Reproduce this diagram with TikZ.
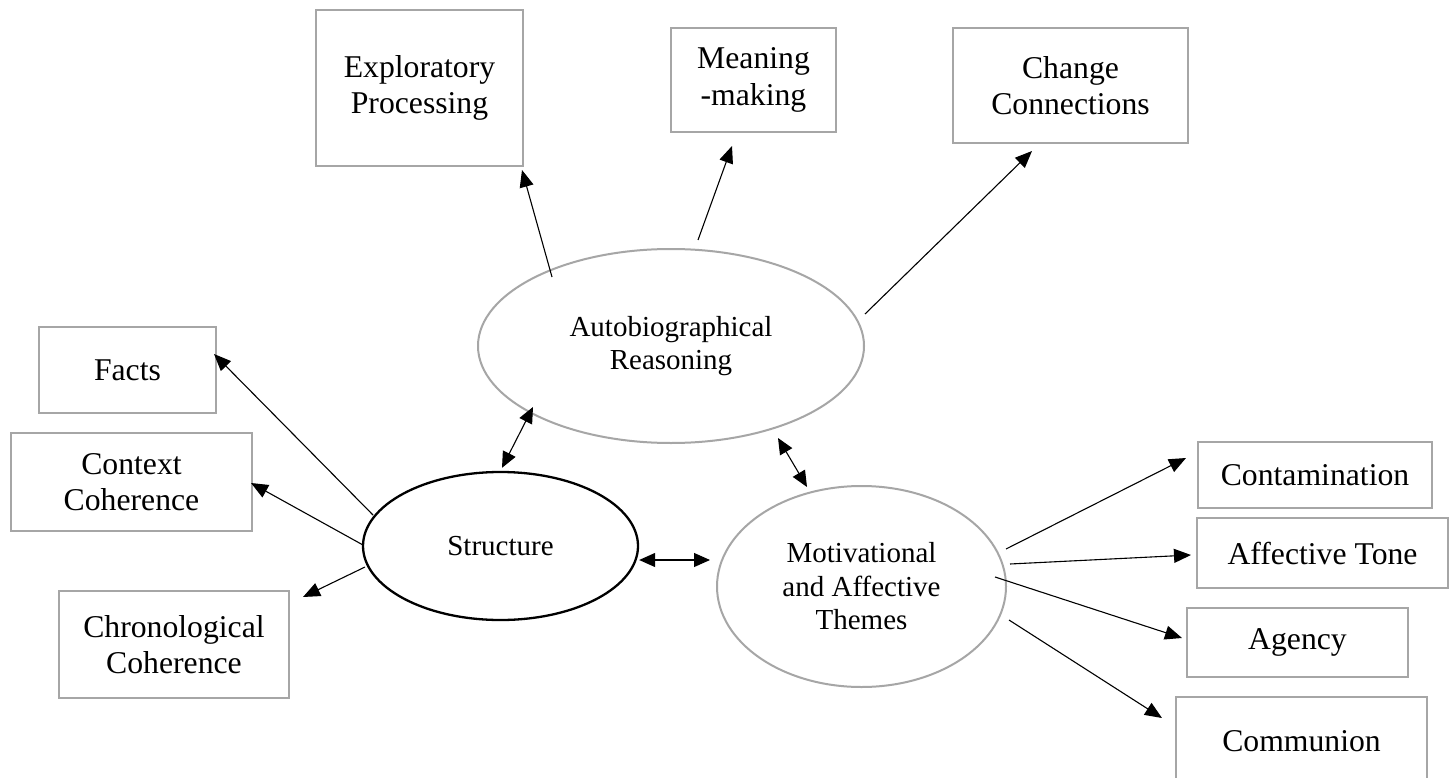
\documentclass[tikz,border=0pt]{standalone}
\usepackage{fontspec}
\setmainfont{Liberation Serif}
\usetikzlibrary{arrows.meta,calc,shapes.geometric}
\definecolor{edgegray}{RGB}{166,166,166}
\begin{document}
\begin{tikzpicture}[x=1pt,y=-1pt,
  box/.style={draw=edgegray,line width=2pt,rectangle,inner sep=0pt,align=center,
    font=\fontsize{31.7}{36.5}\selectfont},
  theme/.style={draw=edgegray,line width=2pt,ellipse,inner sep=0pt,align=center,
    font=\fontsize{29}{33.5}\selectfont},
  dropby/.style={execute at begin node={\rule{0pt}{#1}}},
  link/.style={line width=1.1pt,-{Triangle[length=17pt,width=14pt]}},
  dlink/.style={line width=1.1pt,{Triangle[length=16pt,width=14pt]}-{Triangle[length=16pt,width=14pt]}}]

\fill[white] (0,0) rectangle (1455,778);
\useasboundingbox (0,0) rectangle (1455,778);

% central constructs
\node[theme,dropby=25.5pt,minimum width=386pt,minimum height=194pt] (ar) at (671,346) {Autobiographical\\Reasoning};
\node[theme,draw=black,line width=2.3pt,minimum width=275pt,minimum height=148pt] (st) at (500.5,546) {Structure};
\node[theme,dropby=25pt,minimum width=289pt,minimum height=201pt] (mo) at (861.5,586.5) {Motivational\\and Affective\\Themes};

% autobiographical reasoning indicators
\node[box,dropby=29.5pt,minimum width=207pt,minimum height=156pt] (ep) at (419.5,88) {Exploratory\\Processing};
\node[box,dropby=28.5pt,minimum width=165pt,minimum height=104pt] (mm) at (753.5,80) {Meaning\\-making};
\node[box,dropby=28.5pt,minimum width=235pt,minimum height=115pt] (cc) at (1070.5,85.5) {Change\\Connections};

% structure indicators
\node[box,minimum width=177pt,minimum height=86pt] (fa) at (127.5,370) {Facts};
\node[box,dropby=28.5pt,minimum width=241pt,minimum height=98pt] (co) at (131.5,482) {Context\\Coherence};
\node[box,dropby=29pt,minimum width=230pt,minimum height=107pt] (ch) at (174,644.5) {Chronological\\Coherence};

% motivational and affective indicators
\node[box,minimum width=234pt,minimum height=66pt] (ct) at (1315,475) {Contamination};
\node[box,minimum width=251pt,minimum height=70pt] (at) at (1322.5,553) {Affective Tone};
\node[box,minimum width=221pt,minimum height=69pt] (ag) at (1297.5,642.5) {Agency};
\node[box,minimum width=251pt,minimum height=88pt] (cm) at (1301.5,741) {Communion};

% arrows to indicators
\draw[link] ($(ar.center)+(-119,-69)$) -- ($(ep.south east)+(-2,3)$);
\draw[link] ($(ar.center)+(27,-106)$) -- ($(mm.south)+(-21.5,13)$);
\draw[link] ($(ar.center)+(194,-32)$) -- ($(cc.south)+(-38.5,7)$);

\draw[link] ($(st.center)+(-127.5,-31)$) -- ($(fa.east)+(-3,-16)$);
\draw[link] ($(st.center)+(-137.5,-1)$) -- ($(co.east)+(-2,1)$);
\draw[link] ($(st.center)+(-135.5,21)$) -- ($(ch.north east)+(13,7)$);

\draw[link] ($(mo.center)+(144.5,-37.5)$) -- ($(ct.west)+(-11,-17)$);
\draw[link] ($(mo.center)+(148.5,-22.5)$) -- ($(at.west)+(-5,2)$);
\draw[link] ($(mo.center)+(133.5,-9.5)$) -- ($(ag.west)+(-4,-4.5)$);
\draw[link] ($(mo.center)+(147.5,33.5)$) -- ($(cm.west)+(-13,-23)$);

% links between constructs
\draw[dlink] ($(st.north)+(1.5,-3)$) -- ($(ar.center)+(-138,61)$);
\draw[dlink] ($(st.east)+(0,14)$) -- ($(mo.west)+(-6,-26.5)$);
\draw[dlink] ($(ar.center)+(107,92)$) -- ($(mo.center)+(-54.5,-99.5)$);
\end{tikzpicture}
\end{document}
